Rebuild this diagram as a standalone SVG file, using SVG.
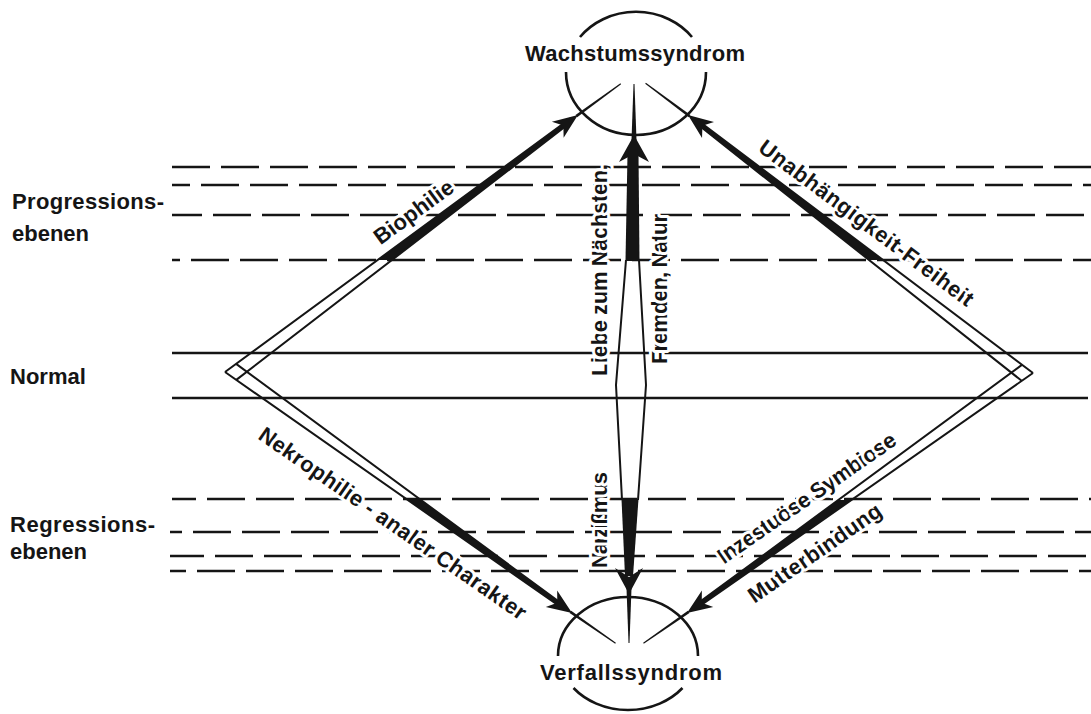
<svg xmlns="http://www.w3.org/2000/svg" width="1091" height="714" viewBox="0 0 1091 714">
<style>
.lvl{stroke:#151515;stroke-width:2.4;fill:none}
.dash{stroke-dasharray:38 11}
.ln{stroke:#151515;stroke-width:2;fill:none}
.arc{stroke:#151515;stroke-width:2.6;fill:none}
.blk{fill:#151515;stroke:none}
.t{font-family:"Liberation Sans",Arial,sans-serif;font-weight:bold;font-size:22px;fill:#151515}
.h{paint-order:stroke;stroke:#fff;stroke-width:6;stroke-linejoin:round}
</style>
<defs>
<clipPath id="cTop" clipPathUnits="userSpaceOnUse"><rect x="0" y="0" width="1091" height="260"/></clipPath>
<clipPath id="cBot" clipPathUnits="userSpaceOnUse"><rect x="0" y="500" width="1091" height="214"/></clipPath>
<path id="ah" d="M0,0 L-25,-10 L-18,0 L-25,10 Z"/>
</defs>
<rect width="1091" height="714" fill="#fff"/>

<g id="levels">
<g class="lvl dash">
<line x1="172" y1="167" x2="1091" y2="167"/>
<line x1="172" y1="185" x2="1091" y2="185" stroke-dashoffset="20"/>
<line x1="172" y1="215" x2="1091" y2="215" stroke-dashoffset="8"/>
<line x1="172" y1="260" x2="1091" y2="260" stroke-dashoffset="30"/>
<line x1="172" y1="499" x2="1091" y2="499" stroke-dashoffset="14"/>
<line x1="170" y1="532" x2="1091" y2="532" stroke-dashoffset="26"/>
<line x1="170" y1="556" x2="1091" y2="556" stroke-dashoffset="4"/>
<line x1="170" y1="571" x2="1091" y2="571" stroke-dashoffset="22"/>
</g>
<line class="lvl" x1="172" y1="353" x2="1088" y2="353"/>
<line class="lvl" x1="172" y1="398" x2="1088" y2="398"/>
</g>

<g id="connectors">
<!-- upper-left: Biophilie -->
<g clip-path="url(#cTop)"><polygon class="blk" transform="translate(225,372) rotate(-36.06)" points="0,0 428.6,-1.6 428.6,1.6 4.5,13"/></g>
<g transform="translate(225,372) rotate(-36.06)">
<path class="ln" d="M0,0 L428.6,-1.6 M4.5,13 L428.6,1.6"/>
<polygon class="blk" points="434.6,-1.4 489.6,-0.6 489.6,0.6 434.6,1.4"/>
<use href="#ah" class="blk" transform="translate(436.6,0)"/>
</g>
<!-- upper-right: Unabhaengigkeit -->
<g clip-path="url(#cTop)"><polygon class="blk" transform="translate(1033,373) rotate(-143.21) scale(1,-1)" points="0,0 422.8,-1.6 422.8,1.6 4.5,13"/></g>
<g transform="translate(1033,373) rotate(-143.21) scale(1,-1)">
<path class="ln" d="M0,0 L422.8,-1.6 M4.5,13 L422.8,1.6"/>
<polygon class="blk" points="428.8,-1.4 483.8,-0.6 483.8,0.6 428.8,1.4"/>
<use href="#ah" class="blk" transform="translate(430.8,0)"/>
</g>
<!-- lower-left: Nekrophilie -->
<g clip-path="url(#cBot)"><polygon class="blk" transform="translate(225,372) rotate(34.78) scale(1,-1)" points="0,0 414.5,-1.6 414.5,1.6 4.5,13"/></g>
<g transform="translate(225,372) rotate(34.78) scale(1,-1)">
<path class="ln" d="M0,0 L414.5,-1.6 M4.5,13 L414.5,1.6"/>
<polygon class="blk" points="420.5,-1.4 475.5,-0.6 475.5,0.6 420.5,1.4"/>
<use href="#ah" class="blk" transform="translate(422.5,0)"/>
</g>
<!-- lower-right: Inzestuoese Symbiose -->
<g clip-path="url(#cBot)"><polygon class="blk" transform="translate(1033,373) rotate(145.25)" points="0,0 413.1,-1.6 413.1,1.6 4.5,13"/></g>
<g transform="translate(1033,373) rotate(145.25)">
<path class="ln" d="M0,0 L413.1,-1.6 M4.5,13 L413.1,1.6"/>
<polygon class="blk" points="419.1,-1.4 474.1,-0.6 474.1,0.6 419.1,1.4"/>
<use href="#ah" class="blk" transform="translate(421.1,0)"/>
</g>
<!-- central vertical -->
<polygon class="blk" points="631.5,140 636.5,140 634.5,84 633.5,84"/>
<path class="blk" d="M634,135 L649,162 L634,154 L619,162 Z"/>
<polygon class="blk" points="627.5,154 638.5,154 639.5,261 625.5,261"/>
<polyline class="ln" points="626,260 616,385 622,500"/>
<polyline class="ln" points="639,260 646,385 638,500"/>
<polygon class="blk" points="621.5,499 638.5,499 633,576 625,576"/>
<path class="blk" d="M629,594 L643,568 L629,577 L615,568 Z"/>
<polygon class="blk" points="626.5,588 631.5,588 629.5,643 628.5,643"/>
</g>

<g id="wachstum">
<path class="arc" d="M580,37 A70,63 0 0 1 692,37"/>
<path class="arc" d="M566,72 A70,63 0 1 0 706,72"/>
<text class="t" x="635" y="61" text-anchor="middle" textLength="220">Wachstumssyndrom</text>
</g>

<g id="verfall">
<path class="arc" d="M558,656 A70,59 0 1 1 698,656"/>
<path class="arc" d="M573.5,688 A70,59 0 0 0 682.5,688"/>
<text class="t" x="631" y="680" text-anchor="middle" textLength="182">Verfallssyndrom</text>
</g>

<g id="labels-left">
<text class="t" x="12" y="209" textLength="152">Progressions-</text>
<text class="t" x="12" y="241">ebenen</text>
<text class="t" x="10" y="384">Normal</text>
<text class="t" x="10" y="532" textLength="145">Regressions-</text>
<text class="t" x="10" y="559">ebenen</text>
</g>

<g id="edge-labels">
<text class="t h" transform="translate(418,218) rotate(-36.06)" text-anchor="middle">Biophilie</text>
<text class="t h" transform="translate(862,229) rotate(36.8)" text-anchor="middle" textLength="262">Unabhängigkeit-Freiheit</text>
<text class="t h" transform="translate(388.5,529.5) rotate(34.78)" text-anchor="middle" textLength="320">Nekrophilie - analer Charakter</text>
<text class="t h" transform="translate(811,504) rotate(-34.75)" text-anchor="middle" textLength="212">Inzestuöse Symbiose</text>
<text class="t h" transform="translate(819,559) rotate(-34.75)" text-anchor="middle" textLength="157">Mutterbindung</text>
<text class="t h" transform="translate(607,270) rotate(-90)" text-anchor="middle" textLength="212">Liebe zum Nächsten,</text>
<text class="t h" transform="translate(667,289) rotate(-90)" text-anchor="middle" textLength="150">Fremden, Natur</text>
<text class="t h" transform="translate(607,520) rotate(-90)" text-anchor="middle" textLength="96">Narzißmus</text>
</g>
</svg>
